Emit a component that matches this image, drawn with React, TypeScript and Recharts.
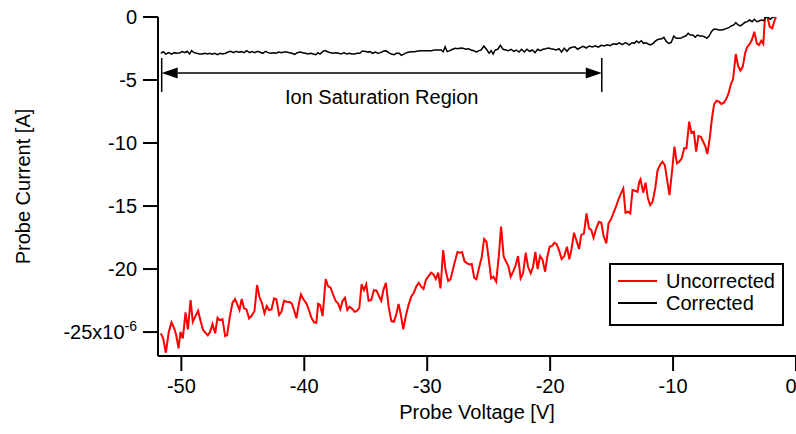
import React from 'react';
import {
  LineChart,
  Line,
  XAxis,
  YAxis,
  ReferenceLine,
  Legend,
} from 'recharts';

// probe sweep, voltage in V, current in microamps
const uncorrectedV = [
  -51.67, -51.48, -51.26, -51.02, -50.8, -50.58, -50.42, -50.23, -50.07, -49.88,
  -49.66, -49.47, -49.25, -49.07, -48.88, -48.64, -48.42, -48.23, -48.03, -47.85,
  -47.66, -47.47, -47.25, -47.06, -46.9, -46.65, -46.44, -46.28, -46.06, -45.84,
  -45.63, -45.43, -45.27, -45.09, -44.9, -44.7, -44.49, -44.3, -44.05, -43.84,
  -43.65, -43.44, -43.24, -43.05, -42.87, -42.67, -42.46, -42.27, -42.05, -41.86,
  -41.65, -41.43, -41.21, -41.02, -40.84, -40.64, -40.46, -40.27, -40.07, -39.83,
  -39.62, -39.42, -39.21, -39.02, -38.87, -38.71, -38.51, -38.26, -38.07, -37.86,
  -37.64, -37.45, -37.26, -37.07, -36.88, -36.69, -36.5, -36.31, -36.09, -35.91,
  -35.72, -35.52, -35.34, -35.15, -34.96, -34.77, -34.55, -34.34, -34.12, -33.93,
  -33.74, -33.55, -33.36, -33.14, -32.92, -32.71, -32.52, -32.33, -32.14, -31.95,
  -31.74, -31.52, -31.3, -31.09, -30.87, -30.68, -30.49, -30.3, -30.11, -29.89,
  -29.68, -29.49, -29.3, -29.11, -28.92, -28.7, -28.51, -28.29, -28.11, -27.92,
  -27.73, -27.54, -27.35, -27.16, -26.97, -26.75, -26.56, -26.38, -26.18, -26.0,
  -25.81, -25.56, -25.37, -25.18, -25.0, -24.8, -24.61, -24.39, -24.18, -23.99,
  -23.78, -23.58, -23.4, -23.21, -23.01, -22.8, -22.61, -22.4, -22.2, -21.99,
  -21.8, -21.58, -21.39, -21.2, -21.02, -20.82, -20.63, -20.41, -20.23, -20.04,
  -19.85, -19.66, -19.47, -19.28, -19.07, -18.85, -18.63, -18.44, -18.25, -18.06,
  -17.87, -17.65, -17.47, -17.25, -17.04, -16.84, -16.65, -16.47, -16.25, -16.03,
  -15.84, -15.65, -15.43, -15.25, -15.05, -14.84, -14.65, -14.46, -14.27, -14.05,
  -13.87, -13.67, -13.48, -13.3, -13.1, -12.89, -12.75, -12.65, -12.43, -12.24,
  -12.05, -11.86, -11.67, -11.45, -11.27, -11.07, -10.86, -10.67, -10.48, -10.29,
  -10.1, -9.89, -9.69, -9.5, -9.29, -9.1, -8.91, -8.69, -8.51, -8.31,
  -8.12, -7.94, -7.74, -7.55, -7.37, -7.21, -7.01, -6.82, -6.66, -6.47,
  -6.26, -6.07, -5.87, -5.69, -5.5, -5.3, -5.12, -4.9, -4.71, -4.52,
  -4.33, -4.14, -3.96, -3.76, -3.57, -3.39, -3.19, -3.01, -2.82, -2.66,
  -2.52, -2.33, -2.14, -1.93, -1.73, -1.62,
];
const uncorrectedI = [
  -25.1, -25.5, -26.64, -24.98, -24.23, -24.71, -25.24, -26.29, -24.98, -25.5,
  -23.44, -24.79, -22.46, -24.18, -23.79, -23.31, -24.18, -24.84, -25.06, -25.26,
  -24.98, -24.37, -25.1, -23.87, -24.05, -23.99, -25.32, -25.24, -23.79, -22.67,
  -22.38, -22.86, -23.25, -22.38, -23.12, -23.2, -23.91, -23.73, -23.33, -21.27,
  -22.2, -22.72, -23.52, -22.94, -23.25, -23.2, -22.33, -22.4, -23.65, -23.39,
  -22.52, -22.6, -22.62, -22.72, -23.25, -23.91, -22.86, -22.01, -22.4, -22.72,
  -23.25, -23.87, -24.23, -24.26, -22.75, -22.86, -23.73, -20.79, -21.35, -21.48,
  -22.06, -22.54, -22.72, -23.2, -22.52, -22.28, -23.25, -22.99, -23.17, -23.39,
  -23.33, -23.07, -21.21, -21.67, -21.21, -22.52, -22.46, -21.67, -21.72, -22.14,
  -22.52, -21.61, -21.09, -22.99, -24.13, -24.18, -23.6, -22.78, -23.65, -24.79,
  -23.73, -22.86, -22.2, -21.88, -21.35, -21.09, -21.4, -21.59, -20.87, -20.56,
  -20.29, -20.42, -20.79, -20.29, -21.53, -18.49, -20.08, -20.95, -20.82, -20.08,
  -19.34, -18.65, -18.71, -18.67, -19.37, -19.55, -19.63, -19.6, -20.69, -20.82,
  -20.02, -19.02, -17.62, -17.83, -19.15, -20.74, -20.61, -21.01, -19.02, -16.64,
  -19.02, -19.42, -19.76, -20.61, -20.21, -19.68, -18.97, -20.74, -20.34, -18.71,
  -19.82, -20.34, -19.82, -18.63, -20.0, -18.97, -19.23, -20.21, -19.02, -18.23,
  -18.17, -17.91, -18.02, -18.49, -19.21, -18.97, -18.23, -19.23, -18.36, -17.12,
  -17.7, -18.41, -17.3, -17.17, -15.58, -16.77, -16.9, -17.52, -16.77, -16.25,
  -16.33, -17.38, -17.96, -16.37, -16.06, -15.53, -15.06, -14.52, -14.05, -13.6,
  -15.53, -15.45, -15.58, -13.73, -13.79, -13.87, -13.07, -12.88, -13.94, -13.15,
  -14.39, -14.92, -14.66, -13.6, -12.2, -11.75, -11.48, -11.75, -12.94, -14.13,
  -12.4, -10.29, -11.61, -11.48, -11.21, -10.42, -10.42, -8.31, -9.18, -9.1,
  -10.69, -9.44, -9.5, -9.9, -10.29, -10.87, -9.55, -7.91, -6.93, -6.64,
  -6.72, -6.9, -6.8, -6.53, -6.11, -5.34, -4.94, -2.94, -3.89, -4.26,
  -3.94, -2.88, -2.36, -2.14, -1.77, -1.17, -2.09, -2.22, -1.88, -2.14,
  0.0, 0.0, -0.77, -0.9, -0.24, -0.02,
];

const correctedV = [
  -51.67, -51.48, -51.26, -51.02, -50.8, -50.58, -50.37, -50.12, -49.93, -49.72,
  -49.53, -49.33, -49.17, -48.96, -48.74, -48.52, -48.31, -48.09, -47.87, -47.68,
  -47.5, -47.28, -47.06, -46.85, -46.63, -46.41, -46.2, -45.98, -45.76, -45.55,
  -45.33, -45.11, -44.9, -44.68, -44.46, -44.25, -44.03, -43.81, -43.6, -43.38,
  -43.16, -42.95, -42.73, -42.51, -42.3, -42.08, -41.86, -41.65, -41.43, -41.21,
  -41.0, -40.78, -40.56, -40.35, -40.13, -39.91, -39.7, -39.48, -39.26, -39.05,
  -38.89, -38.72, -38.51, -38.29, -38.07, -37.86, -37.64, -37.42, -37.21, -36.99,
  -36.77, -36.56, -36.34, -36.12, -35.91, -35.69, -35.47, -35.31, -35.09, -34.87,
  -34.66, -34.44, -34.22, -34.01, -33.79, -33.57, -33.36, -33.14, -32.92, -32.71,
  -32.49, -32.27, -32.11, -31.9, -31.68, -31.46, -31.25, -31.03, -30.76, -30.49,
  -30.22, -29.95, -29.68, -29.41, -29.14, -28.86, -28.7, -28.54, -28.38, -28.16,
  -27.94, -27.73, -27.51, -27.29, -27.08, -26.86, -26.65, -26.43, -26.21, -26.0,
  -25.78, -25.61, -25.4, -25.18, -24.96, -24.8, -24.64, -24.48, -24.26, -24.05,
  -23.83, -23.61, -23.4, -23.18, -22.96, -22.75, -22.53, -22.32, -22.1, -21.88,
  -21.67, -21.45, -21.23, -21.02, -20.8, -20.58, -20.37, -20.15, -19.93, -19.72,
  -19.5, -19.28, -19.07, -18.85, -18.63, -18.42, -18.2, -17.98, -17.77, -17.55,
  -17.3, -17.06, -16.82, -16.57, -16.33, -16.08, -15.84, -15.6, -15.35, -15.11,
  -14.87, -14.62, -14.38, -14.13, -13.89, -13.73, -13.57, -13.35, -13.16, -12.97,
  -12.78, -12.59, -12.4, -12.21, -12.02, -11.84, -11.62, -11.4, -11.19, -10.97,
  -10.75, -10.54, -10.34, -10.15, -9.94, -9.75, -9.56, -9.37, -9.16, -8.96,
  -8.77, -8.59, -8.39, -8.2, -8.02, -7.82, -7.64, -7.45, -7.25, -7.07,
  -6.88, -6.69, -6.47, -6.26, -6.04, -5.82, -5.63, -5.44, -5.26, -5.06,
  -4.9, -4.71, -4.52, -4.33, -4.14, -3.96, -3.76, -3.57, -3.39, -3.19,
  -3.01, -2.82, -2.62, -2.46, -2.27, -2.09, -1.89, -1.71,
];
const correctedI = [
  -2.88, -2.75, -2.94, -2.83, -2.94, -2.83, -2.88, -2.83, -2.75, -2.83,
  -2.72, -2.94, -2.67, -2.83, -2.88, -2.94, -2.94, -2.88, -2.94, -2.88,
  -2.96, -2.88, -2.99, -2.88, -2.94, -2.88, -2.78, -2.72, -2.83, -2.72,
  -2.8, -2.75, -2.83, -2.67, -2.83, -2.75, -2.83, -2.72, -2.8, -2.88,
  -2.72, -2.83, -2.88, -2.83, -2.88, -2.78, -2.83, -2.78, -2.78, -2.83,
  -2.88, -2.96, -2.83, -2.78, -2.83, -2.88, -2.94, -2.88, -2.94, -2.99,
  -2.83, -2.94, -2.75, -2.67, -2.78, -2.83, -2.88, -2.83, -2.88, -2.94,
  -2.83, -2.94, -2.88, -2.94, -2.94, -2.88, -2.88, -2.72, -2.72, -2.78,
  -2.75, -2.88, -2.78, -2.88, -2.83, -2.72, -2.67, -2.83, -2.94, -2.99,
  -2.88, -2.88, -3.04, -2.94, -2.83, -2.78, -2.75, -2.75, -2.7, -2.67,
  -2.67, -2.67, -2.67, -2.62, -2.62, -2.62, -2.75, -2.36, -2.75, -2.67,
  -2.56, -2.48, -2.52, -2.46, -2.48, -2.56, -2.52, -2.62, -2.67, -2.78,
  -2.67, -2.62, -2.3, -2.56, -2.88, -2.67, -2.94, -2.62, -2.56, -2.25,
  -2.56, -2.62, -2.67, -2.56, -2.72, -2.62, -2.78, -2.56, -2.78, -2.56,
  -2.72, -2.62, -2.83, -2.56, -2.67, -2.56, -2.52, -2.46, -2.52, -2.56,
  -2.62, -2.52, -2.78, -2.48, -2.72, -2.48, -2.4, -2.36, -2.56, -2.44,
  -2.33, -2.46, -2.3, -2.38, -2.28, -2.4, -2.25, -2.3, -2.2, -2.28,
  -2.12, -2.17, -2.06, -2.2, -2.04, -2.09, -2.22, -2.04, -2.09, -1.9,
  -2.04, -1.88, -2.09, -2.04, -2.14, -2.22, -2.09, -1.88, -1.77, -1.75,
  -1.61, -1.96, -2.09, -2.01, -1.51, -1.69, -1.69, -1.69, -1.56, -1.51,
  -1.29, -1.43, -1.43, -1.61, -1.43, -1.51, -1.51, -1.56, -1.69, -1.51,
  -1.17, -0.98, -0.98, -1.03, -1.03, -0.98, -0.9, -0.82, -0.71, -0.63,
  -0.45, -0.63, -0.71, -0.56, -0.42, -0.37, -0.24, -0.37, -0.18, -0.37,
  -0.32, -0.24, -0.29, 0.0, -0.02, -0.18, -0.02, 0.0,
];

const xTicks = [-50, -40, -30, -20, -10, 0];
const yTicks = [0, -5, -10, -15, -20, -25];

// ion saturation span marked on the plot
const ionRegionStart = -51.6;
const ionRegionEnd = -15.8;
const ionArrowLevel = -4.44;
const ionBarTop = -3.25;
const ionBarBottom = -5.95;

const uncorrected = uncorrectedV.map((v, i) => ({ v, i: uncorrectedI[i] }));
const corrected = correctedV.map((v, i) => ({ v, i: correctedI[i] }));

const FONT = '"Liberation Sans", Arial, Helvetica, sans-serif';

const YTick = (props: any) => {
  const { x, y, payload } = props;
  const v = payload.value;
  return (
    <text x={x} y={y} dy="0.355em" textAnchor="end" fill="#000" fontSize={20} fontFamily={FONT}>
      {v === -25 ? (
        <>
          -25x10
          <tspan dy="-0.55em" fontSize={14}>-6</tspan>
        </>
      ) : (
        String(v)
      )}
    </text>
  );
};

const ArrowShape = (props: any) => {
  const { x1, y1, x2, y2 } = props;
  const head = 16;
  const half = 5.5;
  const left = Math.min(x1, x2);
  const right = Math.max(x1, x2);
  const y = (y1 + y2) / 2;
  return (
    <g>
      <line x1={left + head} y1={y} x2={right - head} y2={y} stroke="#000" strokeWidth={1.5} />
      <polygon points={`${left},${y} ${left + head},${y - half} ${left + head},${y + half}`} fill="#000" />
      <polygon points={`${right},${y} ${right - head},${y - half} ${right - head},${y + half}`} fill="#000" />
      <text x={(left + right) / 2} y={y + 31} textAnchor="middle" fontSize={20} fontFamily={FONT} fill="#000">
        Ion Saturation Region
      </text>
    </g>
  );
};

const LegendBox = () => (
  <div
    style={{
      border: '2px solid #000',
      background: '#fff',
      width: 171,
      height: 54,
      boxSizing: 'content-box',
      fontFamily: FONT,
      fontSize: 20,
      color: '#000',
      lineHeight: '22px',
      paddingTop: 5,
    }}
  >
    {[
      { name: 'Uncorrected', color: '#ff0000' },
      { name: 'Corrected', color: '#000' },
    ].map((it) => (
      <div key={it.name} style={{ display: 'flex', alignItems: 'center', height: 22 }}>
        <span style={{ display: 'inline-block', width: 39, height: 2, background: it.color, marginLeft: 7, marginRight: 9 }} />
        <span>{it.name}</span>
      </div>
    ))}
  </div>
);

export default function App() {
  return (
    <div style={{ position: 'absolute', left: 0, top: 0, background: '#fff' }}>
      <LineChart width={796} height={434} margin={{ top: 17, right: 0, bottom: 0, left: 0 }}>
        <XAxis
          dataKey="v"
          type="number"
          domain={[-51.9, 0]}
          allowDataOverflow
          ticks={xTicks}
          tickSize={15}
          tickMargin={8}
          height={78}
          axisLine={{ stroke: '#000', strokeWidth: 2 }}
          tickLine={{ stroke: '#000', strokeWidth: 2 }}
          tick={{ fill: '#000', fontSize: 20, fontFamily: FONT }}
          label={{
            value: 'Probe Voltage [V]',
            position: 'insideBottom',
            offset: 15,
            style: { fill: '#000', fontSize: 20, fontFamily: FONT },
          }}
        />
        <YAxis
          dataKey="i"
          type="number"
          domain={[-26.9, 0]}
          allowDataOverflow
          ticks={yTicks}
          tickSize={15}
          tickMargin={6}
          width={158}
          axisLine={{ stroke: '#000', strokeWidth: 2 }}
          tickLine={{ stroke: '#000', strokeWidth: 2 }}
          tick={<YTick />}
          label={{
            value: 'Probe Current [A]',
            angle: -90,
            position: 'insideLeft',
            offset: 23,
            style: { fill: '#000', fontSize: 20, fontFamily: FONT, textAnchor: 'middle' },
          }}
        />
        <Line
          data={uncorrected}
          dataKey="i"
          name="Uncorrected"
          stroke="#ff0000"
          strokeWidth={2}
          dot={false}
          isAnimationActive={false}
        />
        <Line
          data={corrected}
          dataKey="i"
          name="Corrected"
          stroke="#000"
          strokeWidth={1.5}
          dot={false}
          isAnimationActive={false}
        />
        <ReferenceLine
          segment={[{ x: ionRegionStart, y: ionBarTop }, { x: ionRegionStart, y: ionBarBottom }]}
          stroke="#000"
          strokeWidth={1.5}
        />
        <ReferenceLine
          segment={[{ x: ionRegionEnd, y: ionBarTop }, { x: ionRegionEnd, y: ionBarBottom }]}
          stroke="#000"
          strokeWidth={1.5}
        />
        <ReferenceLine
          segment={[{ x: ionRegionStart, y: ionArrowLevel }, { x: ionRegionEnd, y: ionArrowLevel }]}
          shape={<ArrowShape />}
        />
        <Legend
          layout="horizontal"
          verticalAlign="middle"
          align="center"
          content={<LegendBox />}
          wrapperStyle={{ position: 'absolute', left: 609, top: 263, width: 175, height: 58, bottom: 'auto', right: 'auto' }}
        />
      </LineChart>
    </div>
  );
}
